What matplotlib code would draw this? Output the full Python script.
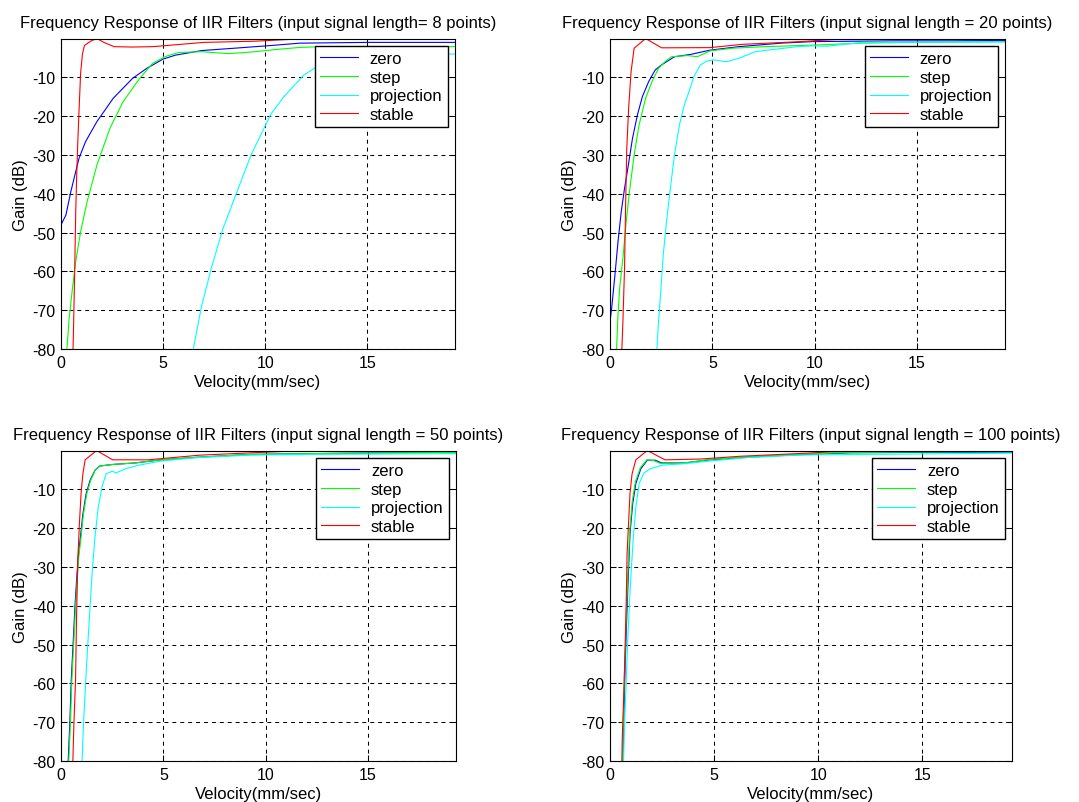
import matplotlib
matplotlib.use('Agg')
import matplotlib.pyplot as plt

plt.rcParams['font.family'] = ['Liberation Sans', 'DejaVu Sans']
plt.rcParams['axes.unicode_minus'] = False

W, H = 1079, 803

# ---- data (velocity mm/sec, gain dB) ----
# input signal length = 8
v8_zero = [0, 0.24, 0.48, 0.72, 0.88, 1.2, 1.76, 2.56, 3.5, 4.2, 5.0, 5.6, 6.9, 8.5, 10.3, 11.7, 15.0, 19.3]
g8_zero = [-48, -45.5, -39.5, -34.3, -30.9, -26.6, -21.4, -15.4, -10.3, -7.7, -5.3, -4.3, -3.1, -2.5, -1.8, -1.2, -1.0, -1.0]
v8_step = [0.29, 0.4, 0.56, 0.72, 0.96, 1.28, 1.76, 2.4, 3.04, 3.85, 4.49, 5.13, 5.77, 6.9, 8.2, 9.3, 10.4, 11.7, 12.7, 19.3]
g8_step = [-80, -72.1, -64.4, -57.5, -49.8, -42, -32.6, -23.1, -16.3, -10.3, -6.4, -4.6, -3.6, -3.4, -3.9, -3.5, -2.9, -2.3, -2.1, -2.1]
v8_proj = [6.48, 6.88, 7.37, 7.94, 8.67, 9.31, 10.28, 10.93, 11.9, 12.7, 13.5, 15.0, 17.0, 19.3]
g8_proj = [-80, -69.1, -59.0, -48.9, -38.8, -30.0, -19.5, -14.9, -9.4, -6.7, -5.2, -4.4, -4.1, -4.0]
v8_stab = [0.59, 0.62, 0.67, 0.72, 0.77, 0.82, 0.88, 0.96, 1.05, 1.15, 1.45, 1.76, 2.1, 2.6, 3.5, 4.5, 5.2, 7.0, 9.5, 11.7, 19.3]
g8_stab = [-80, -73, -60, -45, -35, -27, -19, -9, -4, -1.8, -0.7, 0, -1.0, -2.1, -2.2, -2.1, -1.8, -1.0, -0.7, -0.1, 0.0]

# input signal length = 20
v20_zero = [0, 0.08, 0.24, 0.39, 0.55, 0.71, 0.87, 1.10, 1.34, 1.58, 1.89, 2.21, 2.52, 3.15, 3.94, 4.89, 6.3, 8.36, 9.9, 13.9, 16.7, 19.3]
g20_zero = [-73, -69.5, -61, -52.4, -44.6, -38.6, -33.5, -25.7, -19.7, -15, -11.1, -8.1, -6.8, -4.7, -4.1, -3.0, -2.1, -1.2, -0.8, -0.6, -0.6, -0.5]
v20_step = [0.32, 0.39, 0.47, 0.63, 0.79, 0.95, 1.18, 1.42, 1.74, 2.05, 2.37, 2.68, 3.0, 3.79, 4.26, 4.89, 6.0, 7.57, 9.94, 12.3, 14.8, 19.3]
g20_step = [-80, -71.3, -64.4, -56.6, -47.2, -39.5, -30, -22.3, -15.4, -11.1, -7.7, -6, -4.7, -4.4, -4.7, -3.2, -2.5, -2.1, -1.7, -1.2, -1.0, -0.8]
v20_proj = [2.29, 2.37, 2.49, 2.6, 2.76, 2.97, 3.15, 3.39, 3.63, 3.86, 4.1, 4.42, 4.73, 5.05, 5.68, 6.3, 7.1, 8.5, 9.15, 9.94, 10.6, 12.3, 19.3]
g20_proj = [-80, -73, -64.4, -55.8, -47.2, -37.7, -30, -22.3, -17.1, -13.7, -9.8, -6.8, -5.8, -5.5, -6, -5.1, -3.4, -2.5, -2.1, -1.9, -2.0, -1.0, -0.9]
v20_stab = [0.58, 0.63, 0.71, 0.76, 0.82, 0.91, 1.03, 1.18, 1.74, 2.52, 4.89, 6.47, 9.3, 11.5, 19.3]
g20_stab = [-80, -73, -59.2, -43.7, -28.3, -18, -8.5, -2.5, 0, -2.4, -2.35, -1.5, -0.8, -0.1, 0]

# input signal length = 50
v50_zero = [0.35, 0.43, 0.5, 0.6, 0.68, 0.76, 0.84, 0.95, 1.07, 1.23, 1.42, 1.66, 1.89, 2.52, 3.63, 4.89, 6.78, 9.3, 12.3, 15.5, 19.3]
g50_zero = [-80, -70.4, -59.2, -48.9, -40.3, -33.5, -27.4, -22.3, -16.3, -11.1, -7.7, -5.1, -4.0, -3.6, -3.2, -2.4, -1.7, -1.0, -0.8, -0.6, -0.5]
v50_step = [0.38, 0.46, 0.53, 0.63, 0.71, 0.79, 0.87, 0.98, 1.1, 1.26, 1.45, 1.68, 1.9, 2.52, 3.63, 4.89, 6.78, 9.3, 12.3, 15.5, 19.3]
g50_step = [-80, -70.4, -59.2, -48.9, -40.3, -33.5, -27.4, -22.3, -16.3, -11.1, -7.7, -5.0, -4.0, -3.6, -3.2, -2.4, -1.7, -1.0, -0.8, -0.6, -0.5]
v50_proj = [1.03, 1.1, 1.21, 1.31, 1.42, 1.53, 1.66, 1.82, 2.02, 2.21, 2.52, 2.68, 3.15, 3.79, 4.89, 6.78, 9.3, 12.3, 19.3]
g50_proj = [-80, -70.4, -59.2, -49.8, -40.3, -30.9, -22.3, -14.6, -9, -6, -5.3, -5.8, -4.7, -3.8, -2.7, -1.8, -1.2, -1.0, -0.8]
v50_stab = [0.58, 0.63, 0.71, 0.76, 0.82, 0.9, 0.98, 1.07, 1.18, 1.74, 2.52, 4.26, 4.89, 6.78, 9.3, 11.5, 19.3]
g50_stab = [-80, -70.4, -59.2, -42.9, -28.3, -18.8, -11.1, -6, -2.4, 0, -2.4, -2.4, -2.1, -1.2, -0.6, -0.1, 0]

# input signal length = 100
v100_zero = [0.62, 0.67, 0.73, 0.81, 0.89, 0.96, 1.09, 1.24, 1.48, 1.79, 2.17, 2.48, 3.57, 4.81, 6.68, 9.0, 11.5, 14.3, 19.3]
g100_zero = [-80, -67.8, -54.9, -42, -30.9, -21.4, -13.7, -8.5, -4.7, -2.5, -2.5, -3.2, -3.2, -2.4, -1.7, -1.1, -0.6, -0.5, -0.4]
v100_step = [0.6, 0.65, 0.71, 0.79, 0.87, 0.95, 1.07, 1.22, 1.46, 1.77, 2.1, 2.4, 3.57, 4.81, 6.68, 9.0, 11.5, 14.3, 19.3]
g100_step = [-80, -67, -54, -41, -30, -20.5, -13, -8, -4.4, -2.4, -2.6, -3.3, -3.2, -2.3, -1.6, -1.0, -0.5, -0.4, -0.3]
v100_proj = [0.65, 0.7, 0.78, 0.85, 0.93, 1.02, 1.12, 1.24, 1.4, 1.63, 1.94, 2.48, 3.57, 4.81, 6.68, 9.0, 12.1, 19.3]
g100_proj = [-80, -70.4, -59.2, -48.9, -39.5, -30.9, -22.3, -14.6, -8.5, -5.8, -4.7, -3.8, -3.4, -2.7, -1.8, -1.2, -1.0, -0.7]
v100_stab = [0.57, 0.59, 0.67, 0.73, 0.78, 0.82, 0.89, 0.96, 1.06, 1.24, 1.79, 2.64, 4.35, 6.2, 9.0, 11.5, 19.3]
g100_stab = [-80, -74.1, -61.2, -50, -38.6, -26.6, -18.8, -11.1, -6, -2.4, 0, -2.4, -2.2, -1.5, -0.8, -0.1, 0]

labels = ['zero', 'step', 'projection', 'stable']
colors = ['#0000ff', '#00ff00', '#00ffff', '#ff0000']
titles = ['Frequency Response of IIR Filters (input signal length= 8 points)',
          'Frequency Response of IIR Filters (input signal length = 20 points)',
          'Frequency Response of IIR Filters (input signal length = 50 points)',
          'Frequency Response of IIR Filters (input signal length = 100 points)']
xticks = [0, 5, 10, 15]
yticks = [-80, -70, -60, -50, -40, -30, -20, -10]

panels = [
    [(v8_zero, g8_zero), (v8_step, g8_step), (v8_proj, g8_proj), (v8_stab, g8_stab)],
    [(v20_zero, g20_zero), (v20_step, g20_step), (v20_proj, g20_proj), (v20_stab, g20_stab)],
    [(v50_zero, g50_zero), (v50_step, g50_step), (v50_proj, g50_proj), (v50_stab, g50_stab)],
    [(v100_zero, g100_zero), (v100_step, g100_step), (v100_proj, g100_proj), (v100_stab, g100_stab)],
]

# axes boxes in pixels: left, right, top, bottom
boxes = [(61, 455, 39.5, 350), (610, 1005, 39.5, 350),
         (61, 456, 451.5, 762), (610, 1012, 451.5, 762)]


def px_rect(l, r, t, b):
    return [l / W, 1 - b / H, (r - l) / W, (b - t) / H]


fig = plt.figure(figsize=(W / 100, H / 100), dpi=100)

for box, series, title in zip(boxes, panels, titles):
    ax = fig.add_axes(px_rect(*box))
    for (v, g), lab, c in zip(series, labels, colors):
        ax.plot(v, g, color=c, linewidth=0.8, label=lab)
    ax.set_xlim(0, 19.3)
    ax.set_ylim(-80, 0)
    ax.set_xticks(xticks)
    ax.set_yticks(yticks)
    ax.grid(True, color='black', linestyle=(0, (3.8, 3.8)), linewidth=0.75)
    ax.tick_params(direction='in', top=True, right=True, length=4, width=0.75,
                   labelsize=11.5)
    ax.tick_params(axis='y', pad=4)
    ax.tick_params(axis='x', pad=4)
    for sp in ax.spines.values():
        sp.set_linewidth(0.8)
    ax.set_title(title, fontsize=12, pad=8.5)
    ax.set_xlabel('Velocity(mm/sec)', fontsize=12, labelpad=3.5)
    ax.set_ylabel('Gain (dB)', fontsize=12, labelpad=3)
    leg = ax.legend(loc='upper right', fontsize=12, fancybox=False, framealpha=1,
                    edgecolor='black', handlelength=2.3, handletextpad=0.7,
                    labelspacing=0.22, borderpad=0.3, borderaxespad=0.45)
    leg.get_frame().set_linewidth(1.0)

fig.savefig('out.png', dpi=100)
